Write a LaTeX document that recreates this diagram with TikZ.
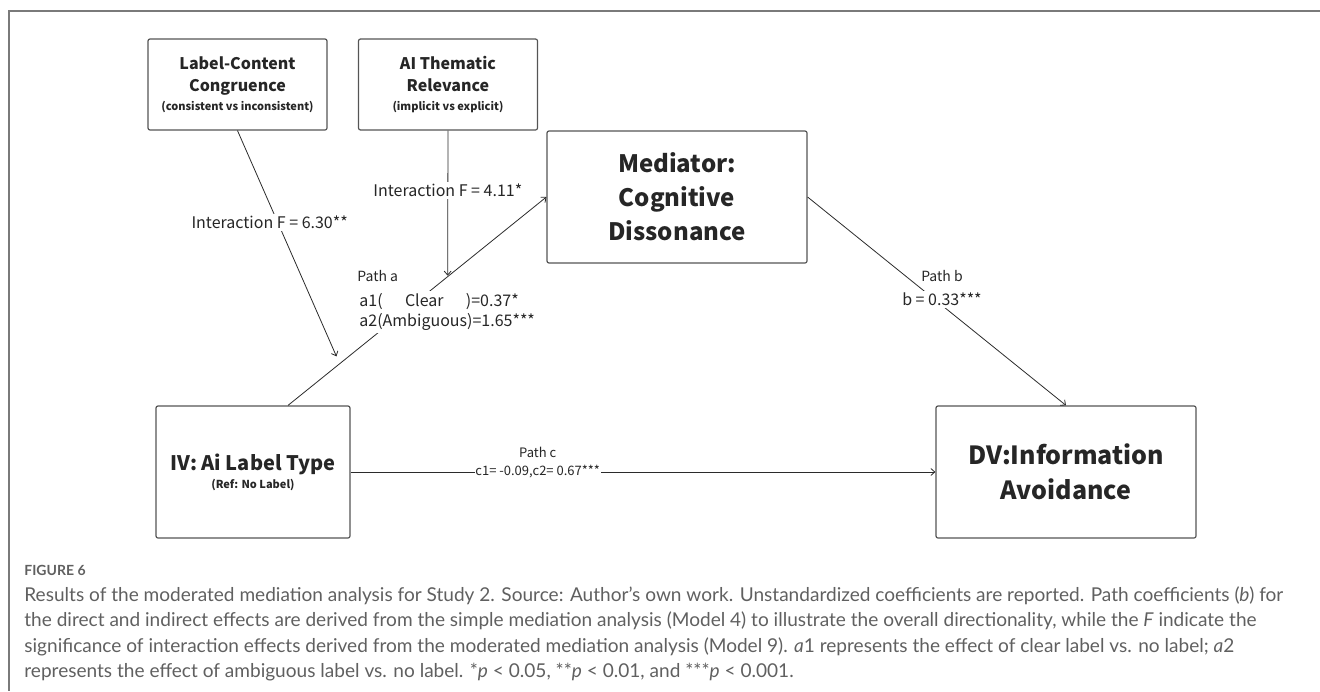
\documentclass[tikz,border=0pt]{standalone}
\usepackage{fontspec}
\setmainfont{Lato}
\newfontfamily\dfont{Noto Sans CJK SC}
\usetikzlibrary{arrows.meta,positioning}
\definecolor{boxgray}{HTML}{555555}
\definecolor{linegray}{HTML}{2b2b2b}
\definecolor{capgray}{HTML}{606060}
\definecolor{framegray}{HTML}{7a7a7a}
\newsavebox\capbox
\newlength\capwd
\newcommand\firstcap{Results of the moderated mediation analysis for Study 2. Source: Author’s own work. Unstandardized coefficients are reported. Path coefficients (\textit{b}) for}
\newcommand\subline[1]{{\fontsize{11}{14}\selectfont #1}}
\newcommand\capline[1]{\scalebox{\capscale}{#1}}

\begin{document}
% caption lines are scaled so that the first one spans the figure width
\settowidth\capwd{\fontsize{20}{25}\selectfont\firstcap}
\pgfmathsetmacro\capscale{1259/\the\capwd}
\begin{tikzpicture}[x=1pt,y=-1pt,->,>={Straight Barb[length=4pt,width=7pt]},line width=0.8pt]
\tikzstyle{var}=[draw=boxgray,line width=1.2pt,rounded corners=2pt,align=center,text=black!85,font=\dfont\bfseries,inner sep=0pt]
\tikzstyle{mod}=[var,minimum width=179pt,minimum height=91pt,font=\dfont\bfseries\fontsize{16}{22}\selectfont]
\tikzstyle{big}=[var,minimum width=260pt,minimum height=132pt]
\tikzstyle{lbl}=[font=\dfont\fontsize{16}{20}\selectfont,fill=white,inner sep=2pt,text=black!85]
\tikzstyle{plbl}=[font=\dfont\fontsize{14}{17}\selectfont,inner sep=0pt,text=black!85]
\tikzstyle{link}=[draw=linegray]
\tikzstyle{captext}=[anchor=base west,inner sep=0pt,text=capgray,font=\fontsize{20}{25}\selectfont]

\useasboundingbox (0,0) rectangle (1320,691);
% frame
\draw[-,framegray,line width=1.4pt] (1320,11) -- (9,11) -- (9,691);

% boxes
\node[mod] (lcc) at (237.5,84.5) {Label-Content\\Congruence\\[-3pt]\subline{(consistent vs inconsistent)}};
\node[mod] (atr) at (448,84.5) {AI Thematic\\Relevance\\[-3pt]\subline{(implicit vs explicit)}};
\node[big,font=\dfont\bfseries\fontsize{24}{34}\selectfont] (med) at (677,197) {Mediator:\\Cognitive\\Dissonance};
\node[var,minimum width=194pt,minimum height=132pt,font=\dfont\bfseries\fontsize{20}{24}\selectfont] (iv) at (253,472) {IV: Ai Label Type\\[-6pt]\subline{(Ref: No Label)}};
\node[big,font=\dfont\bfseries\fontsize{25}{35}\selectfont] (dv) at (1066,472) {DV:Information\\Avoidance};

% path a with the two moderators
\path ([xshift=35pt]iv.north) -- (med.west) coordinate[pos=0.2] (am1) coordinate[pos=0.6178] (am2);
\draw[link] ([xshift=35pt]iv.north) -- (med.west);
\node[lbl,anchor=west,align=left] (aval) at (357,312) {a1(\makebox[5.2em][c]{Clear})=0.37*\\a2(Ambiguous)=1.65***};
\node[plbl,anchor=south west] at ([yshift=9pt]aval.north west) {Path a};
\draw[link,shorten >=8pt] (lcc.south) -- node[lbl,pos=0.393,xshift=-8pt] {Interaction F = 6.30**} (am1);
\draw[link,shorten >=1pt] (atr.south) -- node[lbl,pos=0.41] {Interaction F = 4.11*} (am2);

% path b
\draw[link] (med.east) -- node[lbl,pos=0.52,yshift=6pt] (bval) {b = 0.33***} (dv.north);
\node[plbl,above=8pt of bval] {Path b};

% path c
\draw[link] (iv.east) -- node[lbl,pos=0.32,inner sep=0.5pt,font=\dfont\fontsize{13}{16}\selectfont] (cval) {c1= -0.09,c2= 0.67***} (dv.west);
\node[plbl,font=\dfont\fontsize{13}{16}\selectfont,above=7pt of cval] {Path c};

% caption
\node[captext,font=\bfseries\fontsize{14}{16}\selectfont] at (24,575) {FIGURE 6};
\node[captext] at (24,601) {\capline{\firstcap}};
\node[captext] at (24,626.5) {\capline{the direct and indirect effects are derived from the simple mediation analysis (Model 4) to illustrate the overall directionality, while the \textit{F} indicate the}};
\node[captext] at (24,652) {\capline{significance of interaction effects derived from the moderated mediation analysis (Model 9). \textit{a}1 represents the effect of clear label vs. no label; \textit{a}2}};
\node[captext] at (24,677.5) {\capline{represents the effect of ambiguous label vs. no label. *\textit{p} < 0.05, **\textit{p} < 0.01, and ***\textit{p} < 0.001.}};
\end{tikzpicture}
\end{document}
